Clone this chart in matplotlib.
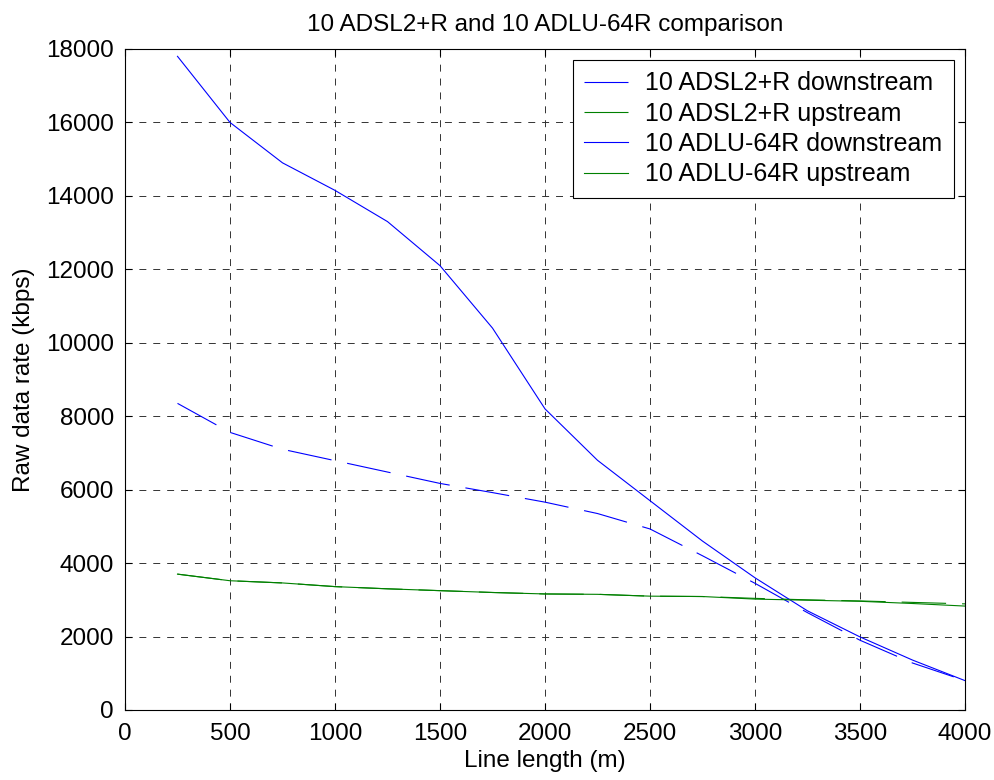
import matplotlib
matplotlib.use("Agg")
import matplotlib.pyplot as plt

plt.rcParams['font.family'] = ['Liberation Sans', 'DejaVu Sans']
plt.rcParams['lines.scale_dashes'] = False

length_m = [250, 500, 750, 1000, 1250, 1500, 1750, 2000, 2250, 2500, 2750, 3000, 3250, 3500, 3750, 4000]
adsl_down = [8350, 7560, 7100, 6790, 6480, 6170, 5920, 5660, 5350, 4930, 4200, 3450, 2650, 1900, 1280, 800]
adsl_up = [3700, 3520, 3460, 3360, 3300, 3250, 3200, 3160, 3150, 3100, 3090, 3040, 3000, 2970, 2930, 2890]
adlu_down = [17800, 16000, 14900, 14150, 13300, 12100, 10400, 8200, 6800, 5700, 4600, 3600, 2700, 1990, 1360, 800]
adlu_up = [3700, 3520, 3460, 3360, 3300, 3250, 3200, 3160, 3150, 3100, 3090, 3020, 2990, 2960, 2900, 2830]

labels = ['10 ADSL2+R downstream', '10 ADSL2+R upstream',
          '10 ADLU-64R downstream', '10 ADLU-64R upstream']

FS = 17.5
fig = plt.figure(figsize=(9.95, 7.8), dpi=100)
ax = fig.add_axes([125/995, 70/780, 840/995, 661/780])

dash = (0, (32, 11.5))
ax.plot(length_m, adsl_down, color='#0000ff', lw=0.8, linestyle=dash, label=labels[0])
ax.plot(length_m, adsl_up, color='#008000', lw=0.8, linestyle=dash, label=labels[1])
ax.plot(length_m, adlu_down, color='#0000ff', lw=0.8, label=labels[2])
ax.plot(length_m, adlu_up, color='#008000', lw=0.8, label=labels[3])

ax.set_xlim(0, 4000)
ax.set_ylim(0, 18000)
ax.set_xticks(range(0, 4001, 500))
ax.set_yticks(range(0, 18001, 2000))
ax.tick_params(direction='in', labelsize=FS, length=5, width=0.8, top=True, right=True)
ax.tick_params(axis='y', pad=8)
ax.tick_params(axis='x', pad=9)
ax.grid(True, color='#333333', linestyle=(0, (5, 5)), linewidth=0.7)
for s in ax.spines.values():
    s.set_linewidth(0.8)

ax.set_xlabel('Line length (m)', fontsize=FS, labelpad=4)
ax.set_ylabel('Raw data rate (kbps)', fontsize=FS, labelpad=8)
ax.set_title('10 ADSL2+R and 10 ADLU-64R comparison', fontsize=FS, pad=13)

leg = ax.legend(loc='upper right', fontsize=18, handlelength=1.75, fancybox=False,
                framealpha=1, edgecolor='black', borderpad=0.45, labelspacing=0.25,
                borderaxespad=0.45, handletextpad=0.7)
leg.get_frame().set_linewidth(0.8)

fig.savefig('out.png', dpi=100)
